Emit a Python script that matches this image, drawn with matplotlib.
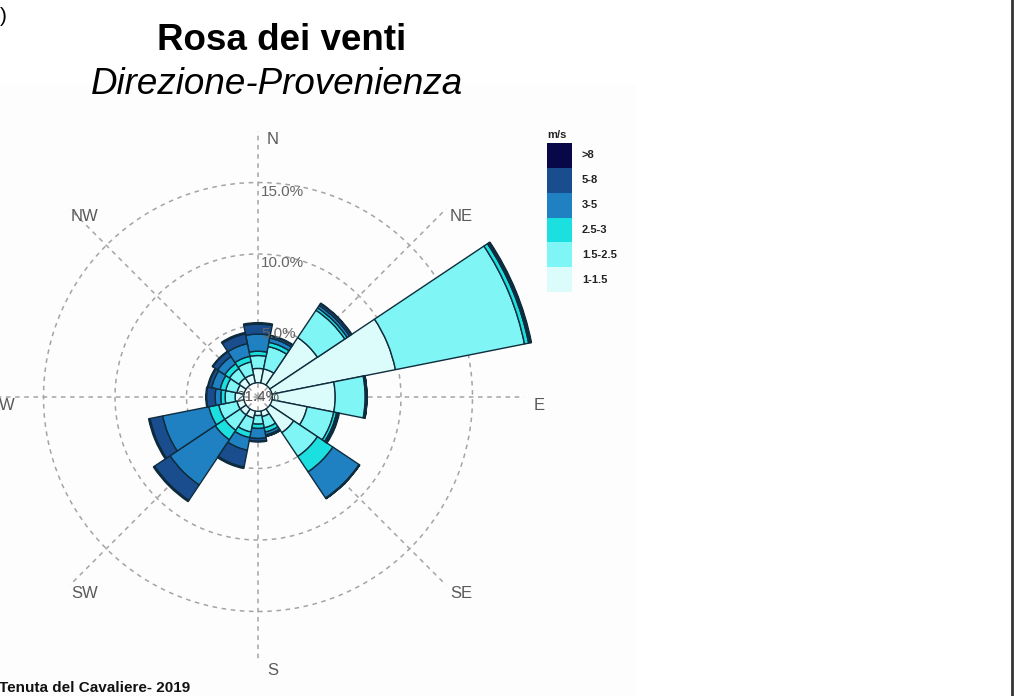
import numpy as np
import matplotlib
matplotlib.use("Agg")
import matplotlib.pyplot as plt
from matplotlib.patches import Rectangle
from matplotlib.lines import Line2D

plt.rcParams['font.family'] = ['Liberation Sans', 'DejaVu Sans']

# -----------------------------
# DATI (frequenze % per settore e classe di velocità)
# -----------------------------
direzioni = ['N', 'NNE', 'NE', 'ENE', 'E', 'ESE', 'SE', 'SSE',
             'S', 'SSW', 'SW', 'WSW', 'W', 'WNW', 'NW', 'NNW']
classi = ['1-1.5', '1.5-2.5', '2.5-3', '3-5', '5-8', '>8']

f_1_15  = [1.0, 1.0, 4.0, 8.8, 4.4, 2.5, 2.0, 0.4, 0.3, 0.5, 0.5, 0.5, 0.6, 0.5, 0.6, 0.6]
f_15_25 = [0.9, 1.6, 2.3, 9.2, 2.1, 1.9, 2.0, 0.8, 0.6, 1.0, 1.3, 1.3, 0.7, 0.8, 0.8, 0.9]
f_25_3  = [0.3, 0.3, 0.2, 0.3, 0.05, 0.2, 1.3, 0.3, 0.3, 0.4, 0.8, 0.7, 0.3, 0.4, 0.4, 0.4]
f_3_5   = [1.2, 0.3, 0.2, 0.1, 0.05, 0.1, 2.2, 0.2, 0.7, 0.9, 3.8, 3.3, 0.4, 0.6, 0.6, 0.9]
f_5_8   = [0.7, 0.15, 0.15, 0.05, 0.02, 0.05, 0.05, 0.1, 0.2, 1.2, 1.3, 0.9, 0.6, 0.25, 0.4, 0.7]
f_8     = [0.1, 0.05, 0.05, 0.05, 0.01, 0.05, 0.01, 0.02, 0.05, 0.1, 0.1, 0.1, 0.05, 0.05, 0.05, 0.1]
calme = 21.4

serie = [f_1_15, f_15_25, f_25_3, f_3_5, f_5_8, f_8]
colori = ['#dcfcfc', '#80f5f5', '#1ce0e0', '#1f80c2', '#1a4d8e', '#080848']

anelli = [5, 10, 15]
punti_cardinali = ['N', 'NE', 'E', 'SE', 'S', 'SW', 'W', 'NW']

# -----------------------------
# FIGURA
# -----------------------------
W, H = 1018, 696
fig = plt.figure(figsize=(W / 100, H / 100), dpi=100)
fig.patch.set_facecolor('white')

def fx(px):
    return px / W

def fy(py):
    return 1 - py / H

# sfondo appena grigio dell'immagine del grafico
fig.add_artist(Rectangle((0, 0), fx(636), 1 - 83 / H, transform=fig.transFigure,
                         facecolor='#fdfdfd', edgecolor='none', zorder=0))

cx, cy = 258, 397       # centro della rosa (pixel)
scala = 14.3            # pixel per 1%
rmax = 20
R = rmax * scala
ax = fig.add_axes([fx(cx - R), fy(cy + R), 2 * R / W, 2 * R / H], projection='polar')
ax.set_theta_zero_location('N')
ax.set_theta_direction(-1)
ax.set_ylim(0, rmax)
ax.set_facecolor('none')
ax.spines['polar'].set_visible(False)
ax.grid(False)
ax.set_xticks([])
ax.set_yticks([])

# griglia tratteggiata
grigio = '#a4a4a4'
tt = np.linspace(0, 2 * np.pi, 400)
for r in anelli:
    ax.plot(tt, np.full_like(tt, r), ls=(0, (3, 3)), color=grigio, lw=1.1, zorder=1)
for i, nome in enumerate(punti_cardinali):
    a = np.deg2rad(i * 45)
    ax.plot([a, a], [0, 18.6], ls=(0, (3, 3)), color=grigio, lw=1.1, zorder=1)
    ax.annotate(nome, xy=(a, 18.6), xytext=(15, -8), textcoords='offset pixels',
                ha='center', va='center', fontsize=12, color='#5a5a5a', zorder=5)

# barre impilate
theta = np.deg2rad(np.arange(len(direzioni)) * 22.5)
largh = 2 * np.pi / len(direzioni)
base = np.full(len(direzioni), 1.0)
for vals, col in zip(serie, colori):
    vals = np.array(vals)
    ax.bar(theta, vals, width=largh, bottom=base, color=col,
           edgecolor='#0e2c3c', linewidth=1.0, zorder=3)
    base = base + vals

# etichette anelli
for r in anelli:
    ax.annotate(f'{r:.1f}%', xy=(0, r), xytext=(3, -2), textcoords='offset pixels',
                ha='left', va='top', fontsize=11, color='#666666', zorder=6)

ax.text(0, 0, f'{calme:.1f}%', ha='center', va='center', fontsize=11,
        color='#555555', zorder=6)

# -----------------------------
# LEGENDA
# -----------------------------
fig.text(fx(547), fy(135), 'm/s', fontsize=8, fontweight='bold', ha='left', va='center',
         color='#222222')
y0 = 143
h = (292 - 143) / 6
for k, (lab, col) in enumerate(zip(classi[::-1], colori[::-1])):
    top = y0 + k * h
    fig.add_artist(Rectangle((fx(547), fy(top + h)), 25 / W, h / H, transform=fig.transFigure,
                             facecolor=col, edgecolor='none'))
    fig.text(fx(582), fy(top + h / 2), lab, fontsize=8, fontweight='bold',
             ha='left', va='center', color='#222222')

# -----------------------------
# TESTI
# -----------------------------
fig.text(fx(282), fy(40), 'Rosa dei venti', fontsize=26.5, fontweight='bold',
         ha='center', va='center')
fig.text(fx(277), fy(85), 'Direzione-Provenienza', fontsize=26.5, fontstyle='italic',
         ha='center', va='center')
fig.text(fx(-1), fy(688), 'Tenuta del Cavaliere- 2019', fontsize=11, fontweight='bold',
         ha='left', va='center', color='#111111')
fig.text(fx(0), fy(16), ')', fontsize=15, ha='left', va='center')

# bordo destro
fig.add_artist(Line2D([fx(1012), fx(1012)], [0, 1], transform=fig.transFigure,
                      color='#333333', lw=2))

fig.savefig('out.png', dpi=100)
